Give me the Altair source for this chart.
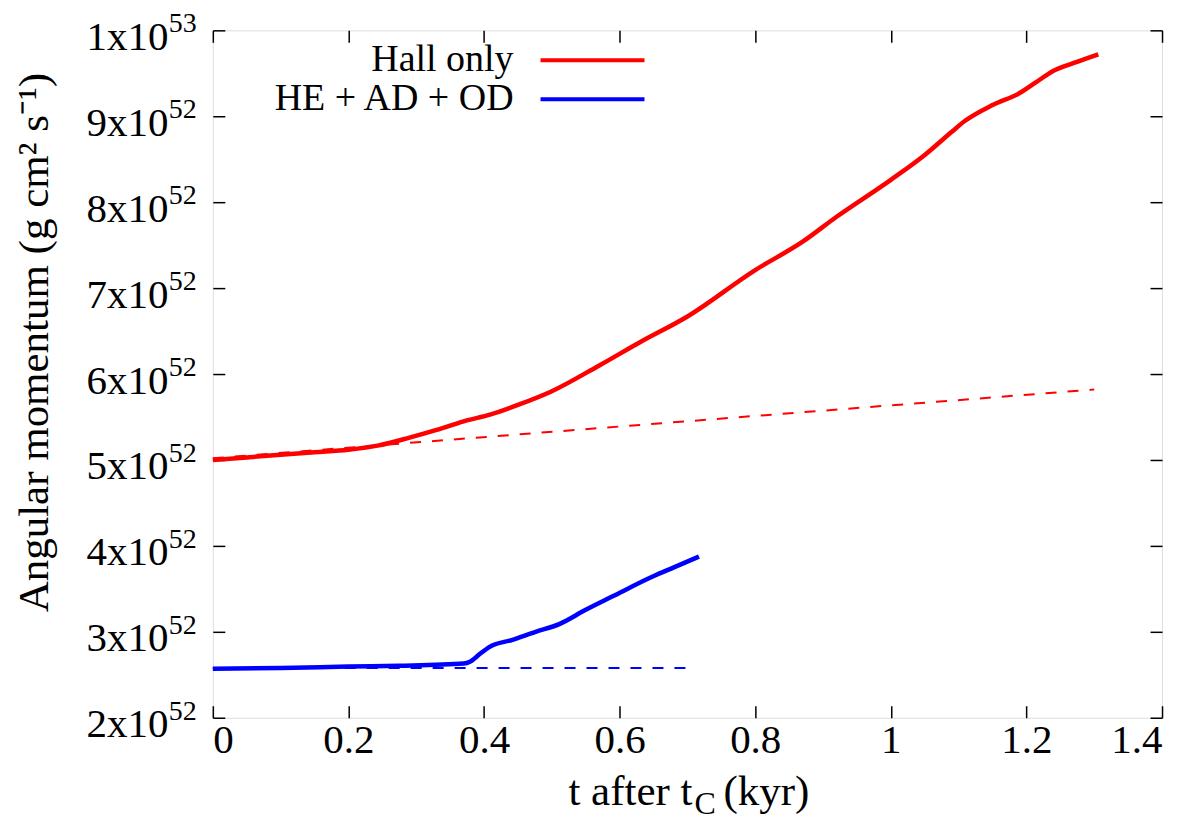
import altair as alt
import pandas as pd

FONT = "Liberation Serif"

# ---- data (angular momentum in units of 1e52 g cm^2 s^-1, time in kyr) ----
hall_t = [0.00, 0.05, 0.10, 0.15, 0.20, 0.245, 0.29, 0.33, 0.37, 0.41, 0.45, 0.50,
          0.57, 0.63, 0.70, 0.80, 0.87, 0.92, 1.00, 1.05, 1.09, 1.11, 1.15, 1.19,
          1.215, 1.24, 1.27, 1.306]
hall_v = [5.00, 5.03, 5.06, 5.09, 5.12, 5.17, 5.26, 5.35, 5.45, 5.53, 5.64, 5.80,
          6.10, 6.37, 6.67, 7.21, 7.54, 7.83, 8.26, 8.55, 8.82, 8.95, 9.13, 9.27,
          9.40, 9.53, 9.62, 9.72]
hall_ref_t = [0.0, 1.30]
hall_ref_v = [5.02, 5.82]

full_t = [0.00, 0.10, 0.20, 0.275, 0.37, 0.38, 0.395, 0.407, 0.442, 0.476, 0.511,
          0.55, 0.589, 0.648, 0.68, 0.717]
full_v = [2.57, 2.58, 2.595, 2.605, 2.63, 2.655, 2.75, 2.82, 2.907, 3.00, 3.09,
          3.256, 3.41, 3.64, 3.75, 3.876]
full_ref_t = [0.0, 0.71]
full_ref_v = [2.578, 2.578]

series_names = ["Hall only", "HE + AD + OD"]
series_colors = ["#ff0000", "#0000ff"]

x_ticks = [0, 0.2, 0.4, 0.6, 0.8, 1.0, 1.2, 1.4]
y_ticks = [2, 3, 4, 5, 6, 7, 8, 9, 10]
y_mantissa = ["2x10", "3x10", "4x10", "5x10", "6x10", "7x10", "8x10", "9x10", "1x10"]
y_exponent = ["52", "52", "52", "52", "52", "52", "52", "52", "53"]

# ---- tables ----
df_solid = pd.concat([
    pd.DataFrame({"t": hall_t, "v": hall_v, "series": series_names[0]}),
    pd.DataFrame({"t": full_t, "v": full_v, "series": series_names[1]}),
])
df_dash = pd.concat([
    pd.DataFrame({"t": hall_ref_t, "v": hall_ref_v, "series": series_names[0]}),
    pd.DataFrame({"t": full_ref_t, "v": full_ref_v, "series": series_names[1]}),
])
df_ticks = pd.DataFrame({"v": y_ticks, "mant": y_mantissa, "exp": y_exponent})
df_one = pd.DataFrame({"k": [0]})

W, H = 950, 688
xscale = alt.Scale(domain=[0, 1.4], nice=False, zero=False)
yscale = alt.Scale(domain=[2, 10], nice=False, zero=False)

mant_expr = ("datum.value == 10 ? '1x10' : format(datum.value, 'd') + 'x10'")

color_enc = alt.Color(
    "series:N",
    scale=alt.Scale(domain=series_names, range=series_colors),
    legend=alt.Legend(
        title=None, orient="none", legendX=361, legendY=11,
        symbolType="M-5,0L5,0", symbolSize=433, symbolStrokeWidth=4,
        labelAlign="right", labelOffset={"expr": "-98"}, labelFontSize=38,
        labelFont=FONT, labelColor="black", labelLimit=0, rowPadding=1,
    ),
)

dashed = alt.Chart(df_dash).mark_line(strokeWidth=2, strokeDash=[11, 11]).encode(
    x=alt.X("t:Q", scale=xscale, axis=alt.Axis(
        orient="top", offset=-12, tickSize=12, domain=False, labels=False,
        values=x_ticks, grid=False, title=None, tickColor="black", tickWidth=1.5)),
    y=alt.Y("v:Q", scale=yscale, axis=alt.Axis(
        orient="right", offset=-12, tickSize=12, domain=False, labels=False,
        values=y_ticks, grid=False, title=None, tickColor="black", tickWidth=1.5)),
    color=color_enc,
)

solid = alt.Chart(df_solid).mark_line(strokeWidth=4.5, interpolate="monotone").encode(
    x=alt.X("t:Q", scale=xscale, axis=alt.Axis(
        orient="bottom", offset=-12, tickSize=12, domain=False, values=x_ticks,
        format="~g", grid=False, title=None, labelFont=FONT, labelFontSize=41,
        labelColor="black", labelPadding=3, tickColor="black", tickWidth=1.5)),
    y=alt.Y("v:Q", scale=yscale, axis=alt.Axis(
        orient="left", offset=-12, tickSize=12, domain=False, values=y_ticks,
        labelExpr=mant_expr, grid=False,
        title="Angular momentum (g cm² s⁻¹)", titleFont=FONT, titleFontSize=43,
        titleFontWeight="normal", titleColor="black", titlePadding=29,
        titleY=312,
        labelFont=FONT, labelFontSize=41, labelColor="black", labelPadding=45,
        labelOffset=7, tickColor="black", tickWidth=1.5)),
    color=color_enc,
)

sup = alt.Chart(df_ticks).mark_text(
    align="left", baseline="middle", font=FONT, fontSize=28, dy=-6, color="black"
).encode(
    y=alt.Y("v:Q", scale=yscale, axis=None),
    x=alt.value(-44),
    text="exp:N",
)

xt1 = alt.Chart(df_one).mark_text(
    align="right", baseline="middle", font=FONT, fontSize=43, color="black"
).encode(x=alt.value(480), y=alt.value(762), text=alt.value("t after t"))
xt2 = alt.Chart(df_one).mark_text(
    align="left", baseline="middle", font=FONT, fontSize=32, color="black"
).encode(x=alt.value(482), y=alt.value(774), text=alt.value("C"))
xt3 = alt.Chart(df_one).mark_text(
    align="left", baseline="middle", font=FONT, fontSize=43, color="black"
).encode(x=alt.value(511), y=alt.value(762), text=alt.value("(kyr)"))

chart = alt.layer(dashed, solid, sup, xt1, xt2, xt3).resolve_axis(
    x="independent", y="independent"
).properties(
    width=W, height=H,
    autosize=alt.AutoSizeParams(type="none"),
    padding={"left": 205, "top": 22, "right": 30, "bottom": 106},
).configure_view(
    stroke="black", strokeWidth=2
).configure(background="white")

chart.save("out.html", embed_options={"renderer": "svg", "actions": False})
